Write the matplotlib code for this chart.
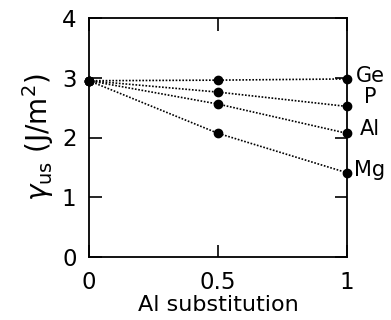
import matplotlib
matplotlib.use('Agg')
import matplotlib.pyplot as plt

# Al substitution fraction and unstable stacking energy (J/m^2)
x_sub = [0, 0.5, 1]
gamma_ge = [2.95, 2.96, 2.98]
gamma_p = [2.95, 2.76, 2.52]
gamma_al = [2.95, 2.56, 2.07]
gamma_mg = [2.95, 2.07, 1.41]
labels = ['Ge', 'P', 'Al', 'Mg']
label_y = [3.03, 2.67, 2.14, 1.45]

plt.rcParams['font.family'] = ['DejaVu Sans']
plt.rcParams['mathtext.fontset'] = 'dejavusans'

fig = plt.figure(figsize=(3.91, 3.2), dpi=100)
ax = fig.add_axes([89 / 391, 63 / 320, 258 / 391, 239 / 320])

for g in [gamma_ge, gamma_p, gamma_al, gamma_mg]:
    ax.plot(x_sub, g, color='black', linestyle=(0, (1, 1)), linewidth=1.2,
            marker='o', markersize=6, clip_on=False, zorder=3)

for lab, yy in zip(labels, label_y):
    ax.text(1.089, yy, lab, fontsize=15, va='center', ha='center',
            transform=ax.transData, clip_on=False)

ax.set_xlim(0, 1)
ax.set_ylim(0, 4)
ax.set_xticks([0, 0.5, 1])
ax.set_xticklabels(['0', '0.5', '1'])
ax.set_yticks([0, 1, 2, 3, 4])
ax.tick_params(direction='in', length=9, width=1.2, labelsize=16.5,
               top=True, right=True)
ax.tick_params(axis='x', pad=10)
ax.tick_params(axis='y', pad=9)
for s in ax.spines.values():
    s.set_linewidth(1.3)

ax.set_xlabel('Al substitution', fontsize=16, labelpad=1)
ax.set_ylabel(r'$\gamma_{\mathrm{us}}$ (J/m$^2$)', fontsize=20, labelpad=4)

fig.savefig('out.png', dpi=100)
